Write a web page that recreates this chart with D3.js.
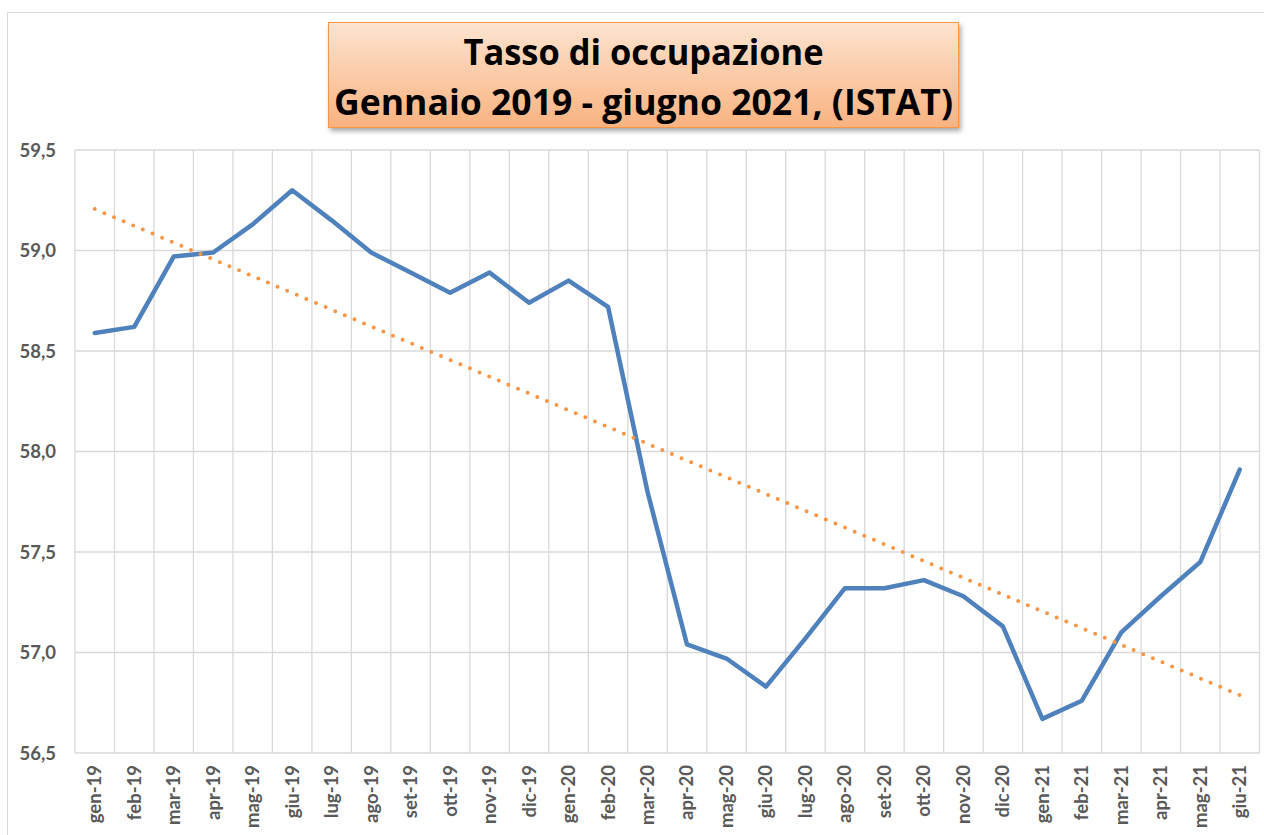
<!DOCTYPE html>
<html>
<head>
<meta charset="utf-8">
<script src="https://cdn.jsdelivr.net/npm/d3@7"></script>
<style>
  html, body { margin: 0; padding: 0; background: #fff; }
  svg { display: block; }
</style>
</head>
<body>
<svg id="chart" width="1264" height="835"></svg>
<script>
const categories = ["gen-19","feb-19","mar-19","apr-19","mag-19","giu-19","lug-19","ago-19","set-19","ott-19","nov-19","dic-19",
  "gen-20","feb-20","mar-20","apr-20","mag-20","giu-20","lug-20","ago-20","set-20","ott-20","nov-20","dic-20",
  "gen-21","feb-21","mar-21","apr-21","mag-21","giu-21"];
const occupazione = [58.59,58.62,58.97,58.99,59.13,59.30,59.15,58.99,58.89,58.79,58.89,58.74,
  58.85,58.72,57.80,57.04,56.97,56.83,57.07,57.32,57.32,57.36,57.28,57.13,
  56.67,56.76,57.10,57.28,57.45,57.91];
const yTicks = [56.5,57.0,57.5,58.0,58.5,59.0,59.5];
const titleLines = ["Tasso di occupazione", "Gennaio 2019 - giugno 2021, (ISTAT)"];

(function () {
const svg = d3.select("#chart");
const pLeft = 75, pRight = 1259.5, pTop = 150, pBottom = 753;

const x = d3.scaleBand().domain(categories).range([pLeft, pRight]).paddingInner(0).paddingOuter(0);
const y = d3.scaleLinear().domain([56.5, 59.5]).range([pBottom, pTop]);
const cx = d => x(d) + x.bandwidth() / 2;

// outer chart border
svg.append("path").attr("d", `M7.5,835 V12.5 H1264`).attr("fill", "none").attr("stroke", "#d9d9d9").attr("stroke-width", 1);

// defs
const defs = svg.append("defs");
const grad = defs.append("linearGradient").attr("id", "tg").attr("x1", 0).attr("y1", 0).attr("x2", 0).attr("y2", 1);
grad.append("stop").attr("offset", "0%").attr("stop-color", "#fde4d0");
grad.append("stop").attr("offset", "100%").attr("stop-color", "#f9b280");
const filt = defs.append("filter").attr("id", "sh").attr("x", "-5%").attr("y", "-10%").attr("width", "110%").attr("height", "130%");
filt.append("feDropShadow").attr("dx", 2).attr("dy", 3).attr("stdDeviation", 2.5).attr("flood-color", "#000").attr("flood-opacity", 0.35);

// gridlines horizontal
svg.append("g").selectAll("line").data(yTicks).join("line")
  .attr("x1", pLeft).attr("x2", pRight)
  .attr("y1", d => y(d)).attr("y2", d => y(d))
  .attr("stroke", "#d9d9d9").attr("stroke-width", 1.3);

// vertical gridlines at band boundaries
const bounds = categories.map(c => x(c)).concat([pRight]);
svg.append("g").selectAll("line").data(bounds).join("line")
  .attr("x1", d => d).attr("x2", d => d)
  .attr("y1", pTop).attr("y2", pBottom)
  .attr("stroke", "#d9d9d9").attr("stroke-width", 1.3);

// y axis labels
const yAxis = d3.axisLeft(y).tickValues(yTicks).tickSize(0).tickPadding(0)
  .tickFormat(d => d3.format(".1f")(d).replace(".", ","));
const gy = svg.append("g").attr("transform", `translate(56,0)`).call(yAxis);
gy.select(".domain").remove();
gy.selectAll("text").attr("font-family", "Lato, 'Open Sans', sans-serif").attr("font-weight", "bold")
  .attr("font-size", 18.5).attr("fill", "#595959").attr("dy", "0.35em");

// x axis labels
const xAxis = d3.axisBottom(x).tickSize(0).tickPadding(0);
const gx = svg.append("g").attr("transform", `translate(0,${pBottom})`).call(xAxis);
gx.select(".domain").remove();
gx.selectAll("text")
  .attr("font-family", "Lato, 'Open Sans', sans-serif").attr("font-weight", "bold")
  .attr("font-size", 18.5).attr("fill", "#595959")
  .attr("text-anchor", "end")
  .attr("transform", "rotate(-90)")
  .attr("x", -12).attr("y", 0).attr("dy", "0.35em");

// linear trend (least squares of the series)
const n = occupazione.length;
const xs = d3.range(n);
const mx = d3.mean(xs), my = d3.mean(occupazione);
const slope = d3.sum(xs, i => (i - mx) * (occupazione[i] - my)) / d3.sum(xs, i => (i - mx) * (i - mx));
const intercept = my - slope * mx;
const trend = xs.map(i => intercept + slope * i);

// series line
const line = d3.line().x((d, i) => cx(categories[i])).y(d => y(d));
svg.append("path").datum(occupazione).attr("d", line)
  .attr("fill", "none").attr("stroke", "#4f81bd").attr("stroke-width", 4.5)
  .attr("stroke-linejoin", "round").attr("stroke-linecap", "round");

// trend dotted line
svg.append("path").datum(trend).attr("d", line)
  .attr("fill", "none").attr("stroke", "#f79646").attr("stroke-width", 4)
  .attr("stroke-linecap", "round").attr("stroke-dasharray", "0 10.45");

// title box
const tb = svg.append("g");
tb.append("rect").attr("x", 328.5).attr("y", 22.5).attr("width", 630).attr("height", 105)
  .attr("fill", "url(#tg)").attr("stroke", "#f79646").attr("stroke-width", 1).attr("filter", "url(#sh)");
const tcx = 643.5;
tb.selectAll("text").data(titleLines).join("text")
  .attr("x", tcx).attr("y", (d, i) => i === 0 ? 65 : 115)
  .attr("text-anchor", "middle")
  .attr("font-family", "'Open Sans', Lato, sans-serif").attr("font-weight", "bold")
  .attr("font-size", 36).attr("fill", "#000")
  .attr("textLength", (d, i) => i === 0 ? 360 : 619)
  .attr("lengthAdjust", "spacingAndGlyphs")
  .text(d => d);
})();
</script>
</body>
</html>
